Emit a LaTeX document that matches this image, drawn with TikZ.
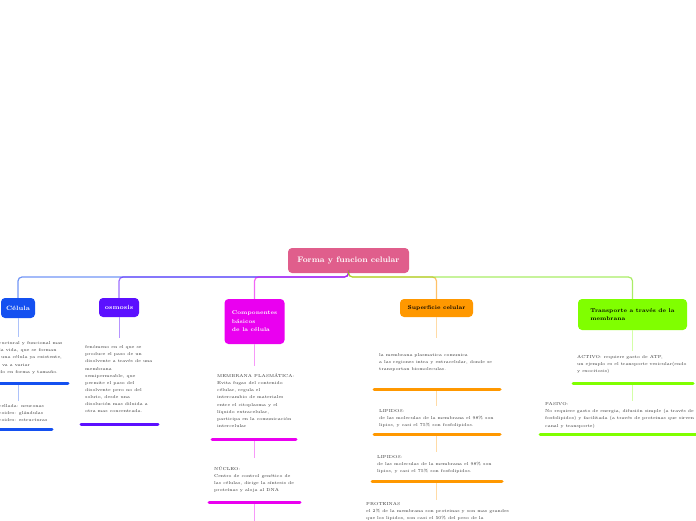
\documentclass[tikz,border=0pt]{standalone}
\usepackage{fontspec}
\usetikzlibrary{calc}
\definecolor{rootpink}{RGB}{224,94,140}
\definecolor{celblue}{RGB}{20,80,240}
\definecolor{osmviolet}{RGB}{92,16,255}
\definecolor{compmag}{RGB}{234,0,240}
\definecolor{supor}{RGB}{255,152,0}
\definecolor{trgreen}{RGB}{128,255,0}
\begin{document}
\begin{tikzpicture}[x=1pt,y=-1pt,
  box/.style={rectangle,rounded corners=4pt,inner sep=0pt,align=left,
    font=\fontsize{5.5}{8.5}\selectfont\bfseries},
  txt/.style={anchor=north west,inner sep=0pt,align=left,text=black!80,
    font=\fontsize{4.3}{7.1}\selectfont},
  bus/.style={line width=1.2pt,rounded corners=4pt,opacity=0.6},
  stub/.style={line width=0.9pt},
  uline/.style={line width=3pt,line cap=round}]
\useasboundingbox (0,0) rectangle (696,520);
\clip (0,0) rectangle (696,520);

\node[box,fill=rootpink,text=white,minimum width=121pt,minimum height=25pt,
  font=\fontsize{8}{10}\selectfont\bfseries] (root) at (348.5,260.5) {Forma y funcion celular};
\coordinate (fork) at (348.5,277);

\node[box,fill=celblue,text=white,minimum width=34pt,minimum height=20pt,
  font=\fontsize{6.2}{8.5}\selectfont\bfseries] (cel) at (18,308) {Célula};
\node[box,fill=osmviolet,text=white,minimum width=40pt,minimum height=19pt,
  font=\fontsize{6.2}{8.5}\selectfont\bfseries] (osm) at (119,307.5) {osmosis};
\node[box,fill=compmag,text=white,minimum width=60pt,minimum height=45pt] (comp) at (254.5,321.5) {Componentes\\básicos\\de la célula};
\node[box,fill=supor,minimum width=73pt,minimum height=18pt] (sup) at (436.5,308) {Superficie celular};
\node[box,fill=trgreen,minimum width=109pt,minimum height=31pt] (trans) at (632.5,314.5) {Transporte a través de la\\membrana};

\draw[bus,celblue] (root.south) -- (fork) -| (cel.north);
\draw[bus,osmviolet] (root.south) -- (fork) -| (osm.north);
\draw[bus,compmag] (root.south) -- (fork) -| (comp.north);
\draw[bus,supor] (root.south) -- (fork) -| (sup.north);
\draw[bus,trgreen!80!black!60!trgreen] (root.south) -- (fork) -| (trans.north);

\node[txt] (celA) at (-1,341.5) {ructural y funcional mas\\la vida, que se forman\\\hspace*{2pt}una célula ya existente,\\\hspace*{3pt}va a variar\\do en forma y tamaño.};
\draw[uline,celblue] (-5,383) coordinate (celAl) -- (68,383);
\node[txt] (celB) at (-1,404.5) {rellada: neuronas\\roides: glándulas\\roides: estructuras};
\draw[uline,celblue] (-5,429) -- (52,429);
\draw[stub,celblue!35] (cel.south) -- ($(cel.south |- celA.north)+(0,-5)$);
\draw[stub,celblue!35] ($(cel.south |- celAl)+(0,2)$) -- ($(cel.south |- celB.north)+(0,-4)$);

\node[txt] (osmA) at (85,345.5) {fenómeno en el que se\\produce el paso de un\\disolvente a través de una\\membrana\\semipermeable, que\\permite el paso del\\disolvente pero no del\\soluto, desde una\\disolución mas diluida a\\otra mas concentrada.};
\draw[uline,osmviolet] (81,424) -- (158,424);
\draw[stub,osmviolet!45] (osm.south) -- ($(osm.south |- osmA.north)+(0,-8)$);

\node[txt] (compA) at (217,373.5) {MEMBRANA PLASMÁTICA:\\Evita fugas del contenido\\célular, regula el\\intercambio de materiales\\entre el citoplasma y el\\líquido extracelular,\\participa en la comunicación\\intercelular};
\draw[uline,compmag] (212,439) coordinate (compAl) -- (296,439);
\node[txt] (compB) at (214,466.5) {NÚCLEO:\\Centro de control genético de\\las células, dirige la síntesis de\\proteínas y aloja al DNA};
\draw[uline,compmag] (209,502) coordinate (compBl) -- (300,502);
\draw[stub,compmag!40] (comp.south) -- ($(comp.south |- compA.north)+(0,-8)$);
\draw[stub,compmag!40] ($(comp.south |- compAl)+(0,2)$) -- ($(comp.south |- compB.north)+(0,-9)$);
\draw[stub,compmag!40] ($(comp.south |- compBl)+(0,2)$) -- ($(comp.south |- compBl)+(0,20)$);

\node[txt] (supA) at (379,353.5) {la membrana plasmatica comunica\\a las regiones intra y extracelular, donde se\\transportan biomoleculas.};
\draw[uline,supor] (374,389) coordinate (supAl) -- (500,389);
\node[txt] (supB) at (379,409.5) {LIPIDOS:\\de las moleculas de la membrana el 98\% son\\lipios, y casi el 75\% son fosfolipidos.};
\draw[uline,supor] (374,434) coordinate (supBl) -- (500,434);
\node[txt] (supC) at (377,455.5) {LIPIDOS:\\de las moleculas de la membrana el 98\% son\\lipios, y casi el 75\% son fosfolipidos.};
\draw[uline,supor] (372,481) coordinate (supCl) -- (502,481);
\node[txt] (supD) at (366,502.5) {PROTEINAS\\el 2\% de la membrana son proteinas y son mas grandes\\que los lipidos, son casi el 50\% del peso de la};
\draw[stub,supor!35] (sup.south) -- ($(sup.south |- supA.north)+(0,-16)$);
\draw[stub,supor!35] ($(sup.south |- supAl)+(0,2)$) -- ($(sup.south |- supB.north)+(0,-4)$);
\draw[stub,supor!35] ($(sup.south |- supBl)+(0,2)$) -- ($(sup.south |- supC.north)+(0,-4)$);
\draw[stub,supor!35] ($(sup.south |- supCl)+(0,2)$) -- ($(sup.south |- supD.north)+(0,-3)$);

\node[txt] (transA) at (577,355.5) {ACTIVO: requiere gasto de ATP,\\un ejemplo es el transporte vesicular(endo\\y exocitosis)};
\draw[uline,trgreen] (573,383) coordinate (transAl) -- (693,383);
\node[txt] (transB) at (545,402.5) {PASIVO:\\No requiere gasto de energia, difusión simple (a través de\\fosfolipidos) y facilitada (a través de proteinas que sirven\\canal y transporte)};
\draw[uline,trgreen] (540,434) -- (700,434);
\draw[stub,trgreen!35] (trans.south) -- ($(trans.south |- transA.north)+(0,-5)$);
\draw[stub,trgreen!35] ($(trans.south |- transAl)+(0,2)$) -- ($(trans.south |- transB.north)+(0,-2)$);
\end{tikzpicture}
\end{document}
